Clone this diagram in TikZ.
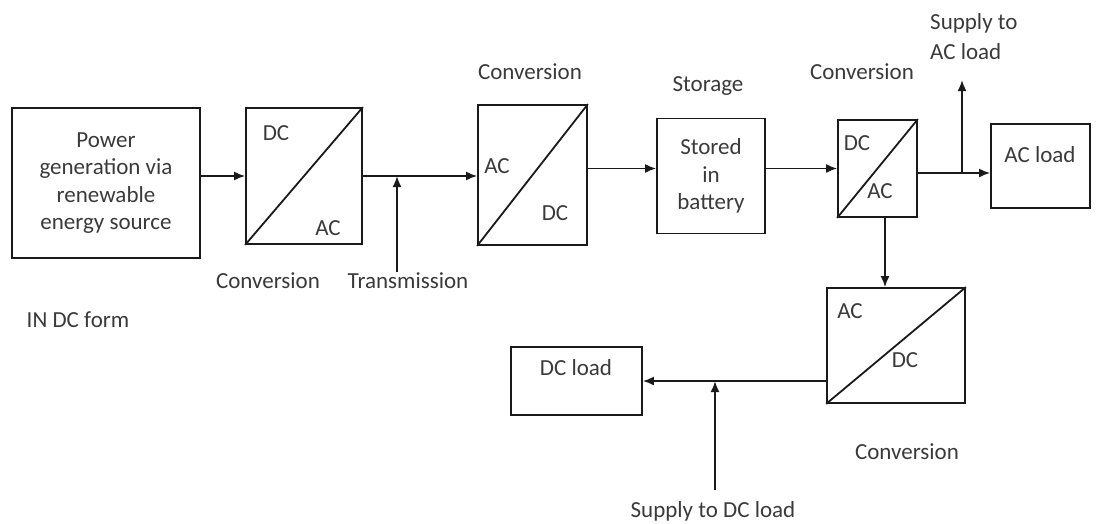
\documentclass[tikz,border=0pt]{standalone}
\usepackage{fontspec}
\setmainfont{Carlito}
\usetikzlibrary{positioning,arrows.meta}
\definecolor{ink}{HTML}{1A1A1A}
\definecolor{txt}{HTML}{3A3A3A}

\begin{document}
\begin{tikzpicture}[x=1pt, y=-1pt,
  box/.style={draw=ink, line width=1.8pt, align=center, inner sep=0pt,
              font=\fontsize{23}{27.5}\selectfont, text=txt},
  conv/.style={box},
  lab/.style={font=\fontsize{23}{27.5}\selectfont, text=txt, align=center, inner sep=0pt},
  wire/.style={line width=1.8pt, draw=ink},
  arr/.style={wire, -{Latex[length=11pt,width=9pt]}}]
  \useasboundingbox (0,0) rectangle (1097,523);
  % pixel grid of the sketch: x to the right, y downwards
  \node[box]  (src) at (106,183)   [minimum width=188, minimum height=150] {Power\\ generation via\\ renewable\\ energy source};
  \node[conv] (cv1) at (304,176)   [minimum width=116, minimum height=136] {};
  \node[conv] (cv2) at (532.5,175) [minimum width=109, minimum height=140] {};
  \node[box]  (bat) at (711,176)   [minimum width=108, minimum height=115] {Stored\\ in\\ battery};
  \node[conv] (cv3) at (877.5,168.5) [minimum width=79, minimum height=97] {};
  \node[box]  (acl) at (1040.5,166) [minimum width=99, minimum height=84] {};
  \node[conv] (cv4) at (896,345.5) [minimum width=138, minimum height=115] {};
  \node[box]  (dcl) at (576.5,381) [minimum width=131, minimum height=68] {};
  % converter diagonals
  \foreach \c in {cv1,cv2,cv3,cv4}
    \draw[wire] (\c.south west) -- (\c.north east);
  % texts in the converters
  \node[lab] (cv1dc) at (276,133) {DC};
  \node[lab] (cv1ac) at (328,228) {AC};
  \node[lab] (cv2ac) at (497,166) {AC};
  \node[lab] (cv2dc) at (555,213) {DC};
  \node[lab] (cv3dc) at (857,143) {DC};
  \node[lab] (cv3ac) at (880,191) {AC};
  \node[lab] (cv4ac) at (850,311) {AC};
  \node[lab] (cv4dc) at (905,360) {DC};
  \node[lab] (acltxt) at (1040,155) {AC load};
  \node[lab] (dcltxt) at (576,368) {DC load};
  % captions
  \node[lab] (conv1)  at (268,281) {Conversion};
  \node[lab] (trans)  at (408,281) {Transmission};
  \node[lab] (dcform) at (78,320)  {IN DC form};
  \node[lab] (conv2)  at (530,72)  {Conversion};
  \node[lab] (store)  at (708,86)  {Storage};
  \node[lab] (conv3)  at (862,72)  {Conversion};
  \node[lab, align=left, anchor=west] (acsup) at (930,37) {Supply to\\[2.5pt]AC load};
  \node[lab] (conv4)  at (907,452) {Conversion};
  \node[lab] (dcsup)  at (713,511) {Supply to DC load};
  % free ends of the branch arrows
  \coordinate (tx)  at (397,272);
  \coordinate (acj) at (962,173);
  \coordinate (acup) at (962,80);
  \coordinate (dn)  at (885,0);
  \coordinate (dcs) at (715,490);
  \draw[arr] (src.east |- cv1.west) -- (cv1.west);
  \draw[arr] (cv1.east) -- (cv1.east -| cv2.west);
  \draw[arr] (tx) -- (tx |- cv1.east);
  \draw[arr] (cv2.east |- cv3.west) -- (bat.west |- cv3.west);
  \draw[arr] (bat.east |- cv3.west) -- (cv3.west);
  \draw[wire] (cv3.east |- acj) -- (acj);
  \draw[arr] (acj) -- (acj -| acl.west);
  \draw[arr] (acj) -- (acup);
  \draw[arr] (cv3.south -| dn) -- (cv4.north -| dn);
  \draw[arr] (cv4.west |- dcl.east) -- (dcl.east);
  \draw[arr] (dcs) -- (dcs |- dcl.east);
\end{tikzpicture}
\end{document}
